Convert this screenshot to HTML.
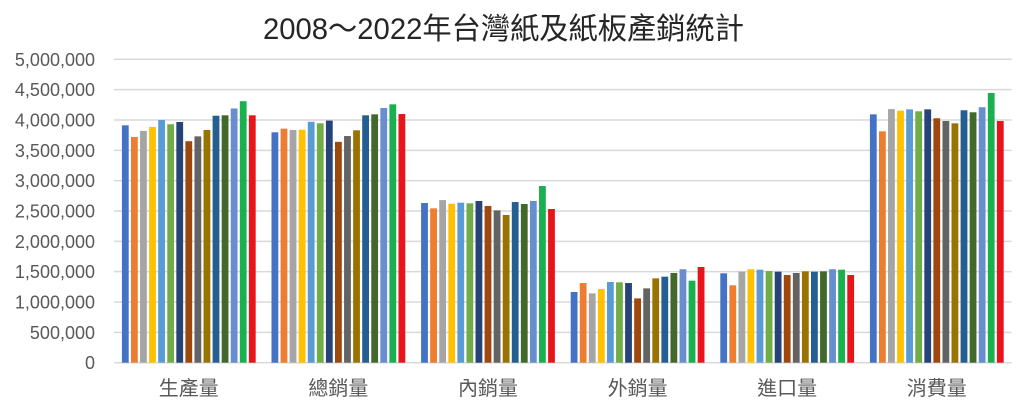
<!DOCTYPE html>
<html><head><meta charset="utf-8"><style>
html,body{margin:0;padding:0;background:#fff;}
svg{display:block;}
</style></head><body>
<svg id="c" width="1024" height="410" xmlns="http://www.w3.org/2000/svg" font-family="'Liberation Sans','Noto Sans CJK TC',sans-serif">
<rect width="1024" height="410" fill="#fff"/>
<text x="263" y="39" font-size="30" fill="#262626" textLength="481" lengthAdjust="spacingAndGlyphs">2008～2022年台灣紙及紙板產銷統計</text>
<g id="grid"></g>
<g id="bars"></g>
<g id="labels"></g>
</svg>
<script>
(function(){
var ns="http://www.w3.org/2000/svg";
var base=362.7, sc=303.4/5e6;
var grid=document.getElementById('grid'), bars=document.getElementById('bars'), labels=document.getElementById('labels');
var ylab=["0","500,000","1,000,000","1,500,000","2,000,000","2,500,000","3,000,000","3,500,000","4,000,000","4,500,000","5,000,000"];
for(var k=0;k<=10;k++){
  var y=base-k*30.34;
  var l=document.createElementNS(ns,'line');
  l.setAttribute('x1',114);l.setAttribute('x2',1011.6);l.setAttribute('y1',y);l.setAttribute('y2',y);
  l.setAttribute('stroke','#d9d9d9');l.setAttribute('stroke-width','1.5');
  grid.appendChild(l);
  var t=document.createElementNS(ns,'text');
  t.setAttribute('x',95);t.setAttribute('y',y+6.5);t.setAttribute('text-anchor','end');
  t.setAttribute('font-size','18');t.setAttribute('fill','#595959');
  t.textContent=ylab[k];labels.appendChild(t);
}
var colors=["#4472C4","#ED7D31","#A5A5A5","#FFC000","#5B9BD5","#70AD47","#264478","#9E480E","#636363","#997300","#255E91","#43682B","#698ED0","#1BB04F","#E8141C"];
var data=[
[3912,3720,3820,3885,4000,3930,3967,3650,3730,3835,4070,4077,4190,4310,4077],
[3797,3857,3835,3840,3970,3945,3990,3640,3735,3830,4077,4093,4197,4258,4098],
[2632,2544,2680,2620,2637,2627,2665,2583,2510,2434,2648,2615,2665,2912,2533],
[1165,1313,1143,1215,1330,1325,1313,1060,1225,1390,1418,1478,1540,1352,1577],
[1473,1275,1500,1540,1533,1510,1500,1445,1478,1506,1500,1506,1540,1533,1445],
[4093,3813,4180,4153,4175,4143,4175,4028,3983,3945,4160,4127,4210,4445,3983]];
var cats=["生產量","總銷量","內銷量","外銷量","進口量","消費量"];
for(var g=0;g<6;g++){
  var gs=114+g*149.6+6.8;
  for(var i=0;i<15;i++){
    var v=data[g][i]*1000;
    var h=v*sc;
    var r=document.createElementNS(ns,'rect');
    r.setAttribute('x',(gs+i*9.07+1.1).toFixed(2));
    r.setAttribute('y',(base-h).toFixed(2));
    r.setAttribute('width','6.8');
    r.setAttribute('height',h.toFixed(2));
    r.setAttribute('fill',colors[i]);
    bars.appendChild(r);
  }
  var t=document.createElementNS(ns,'text');
  t.setAttribute('x',(114+g*149.6+74.8).toFixed(1));t.setAttribute('y',395);
  t.setAttribute('text-anchor','middle');t.setAttribute('font-size','20');t.setAttribute('fill','#595959');
  t.textContent=cats[g];labels.appendChild(t);
}
})();
</script>
</body></html>
